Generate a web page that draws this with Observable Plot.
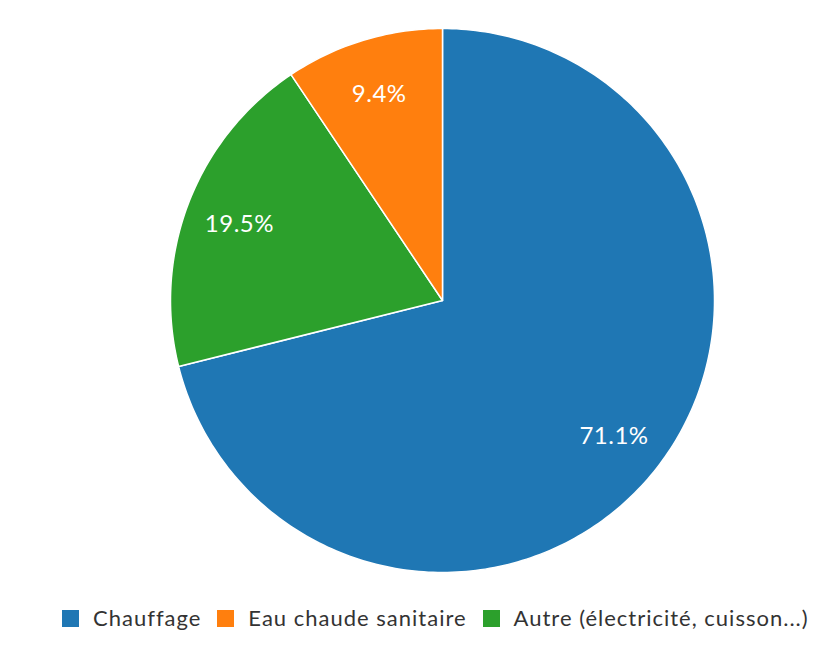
<!DOCTYPE html>
<html><head><meta charset="utf-8">
<script src="https://cdn.jsdelivr.net/npm/d3@7"></script>
<script src="https://cdn.jsdelivr.net/npm/@observablehq/plot@0.6"></script>
<style>
body{margin:0;background:#fff;font-family:Lato,"Open Sans",sans-serif;}
#chart{position:relative;}
#legend{position:absolute;left:62px;top:603px;display:flex;font-size:22px;letter-spacing:1px;color:#333;align-items:center;line-height:30px;}
#legend .item{display:flex;align-items:center;margin-right:16px;}
#legend .sw{width:17px;height:17px;margin-right:14px;flex:none;}
</style></head>
<body>
<div id="chart"></div>
<div id="legend"></div>
<script>
const categories = ["Chauffage", "Autre (électricité, cuisson...)", "Eau chaude sanitaire"];
const values = [71.1, 19.5, 9.4];
const colors = ["#1f77b4", "#2ca02c", "#ff7f0e"];
const legendOrder = ["Chauffage", "Eau chaude sanitaire", "Autre (électricité, cuisson...)"];

const total = d3.sum(values);
let acc = 0;
const slices = categories.map((c, i) => {
  const a0 = acc / total * 2 * Math.PI;
  acc += values[i];
  const a1 = acc / total * 2 * Math.PI;
  const n = Math.max(2, Math.ceil((a1 - a0) / (Math.PI / 180)));
  const pts = [[0, 0]];
  for (let k = 0; k <= n; k++) {
    const a = a0 + (a1 - a0) * k / n;
    pts.push([Math.sin(a), Math.cos(a)]);
  }
  pts.push([0, 0]);
  const am = (a0 + a1) / 2;
  return {
    type: "Feature",
    properties: {name: c, value: values[i], color: colors[i], lx: 0.8 * Math.sin(am), ly: 0.8 * Math.cos(am)},
    geometry: {type: "Polygon", coordinates: [pts]}
  };
});
const domain = {type: "Polygon", coordinates: [[[-1, -1], [1, -1], [1, 1], [-1, 1], [-1, -1]]]};

const chart = Plot.plot({
  width: 835,
  height: 600,
  marginLeft: 170,
  marginRight: 121,
  marginTop: 28,
  marginBottom: 28,
  projection: {type: "reflect-y", domain},
  marks: [
    Plot.geo(slices, {fill: d => d.properties.color, stroke: "white", strokeWidth: 1.5}),
    Plot.text(slices, {
      x: d => d.properties.lx, y: d => d.properties.ly,
      text: d => d.properties.value.toFixed(1) + "%",
      fill: "white", fontSize: 24, fontFamily: "Lato, sans-serif", dy: 2
    })
  ]
});
chart.querySelectorAll("text").forEach(t => t.style.letterSpacing = "0.5px");
document.getElementById("chart").appendChild(chart);

const legend = document.getElementById("legend");
legendOrder.forEach(name => {
  const i = categories.indexOf(name);
  const item = document.createElement("div");
  item.className = "item";
  item.innerHTML = `<span class="sw" style="background:${colors[i]}"></span><span>${name}</span>`;
  legend.appendChild(item);
});
</script>
</body></html>
